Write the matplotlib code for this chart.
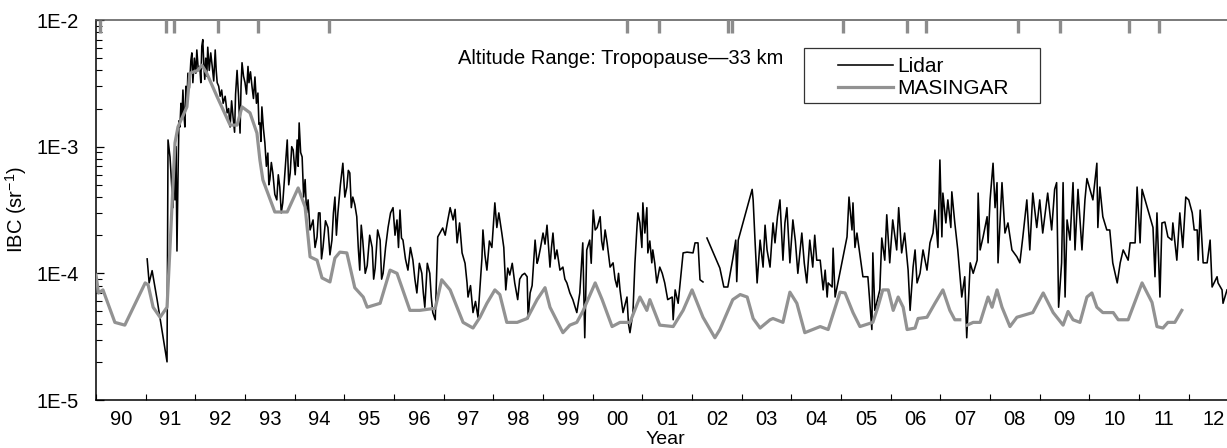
import matplotlib

matplotlib.use("Agg")
import matplotlib.pyplot as plt
import numpy as np
from matplotlib.lines import Line2D
from matplotlib.patches import Rectangle
from matplotlib.ticker import FixedLocator, LogLocator, NullFormatter

plt.rcParams["font.family"] = ["Liberation Sans", "DejaVu Sans"]
plt.rcParams["mathtext.fontset"] = "custom"
plt.rcParams["mathtext.rm"] = "Liberation Sans"
plt.rcParams["mathtext.it"] = "Liberation Sans:italic"

# (decimal year, IBC in sr^-1); nan marks a data gap
LIDAR = [
    (1991.03, 1.3e-4), (1991.07, 8.4e-5), (1991.13, 1.05e-4), (1991.23, 6.2e-5),
    (1991.43, 2.0e-5), (1991.45, 1.13e-3), (1991.49, 8.3e-4), (1991.55, 3.3e-4),
    (1991.57, 9.0e-4), (1991.59, 3.8e-4), (1991.61, 1.0e-3), (1991.63, 1.5e-4),
    (1991.65, 5.5e-4), (1991.67, 1.6e-3), (1991.69, 1.43e-3), (1991.71, 2.2e-3),
    (1991.73, 1.7e-3), (1991.75, 2.8e-3), (1991.77, 1.8e-3), (1991.79, 1.43e-3),
    (1991.81, 3.0e-3), (1991.83, 2.2e-3), (1991.85, 3.8e-3), (1991.88, 2.9e-3),
    (1991.91, 4.8e-3), (1991.93, 5.5e-3), (1991.95, 3.2e-3), (1991.98, 5.0e-3),
    (1992.01, 3.8e-3), (1992.03, 5.8e-3), (1992.06, 4.0e-3), (1992.09, 4.3e-3),
    (1992.11, 3.2e-3), (1992.13, 6.2e-3), (1992.15, 7.0e-3), (1992.17, 4.5e-3),
    (1992.19, 3.4e-3), (1992.21, 5.0e-3), (1992.23, 3.6e-3), (1992.25, 6.1e-3),
    (1992.28, 4.0e-3), (1992.31, 5.5e-3), (1992.34, 4.3e-3), (1992.37, 3.3e-3),
    (1992.40, 5.8e-3), (1992.42, 4.0e-3), (1992.44, 3.2e-3), (1992.47, 3.0e-3),
    (1992.50, 2.5e-3), (1992.53, 2.8e-3), (1992.56, 2.2e-3), (1992.60, 2.5e-3),
    (1992.64, 1.85e-3), (1992.67, 2.0e-3), (1992.70, 1.43e-3), (1992.73, 2.3e-3),
    (1992.76, 1.7e-3), (1992.79, 1.3e-3), (1992.81, 2.6e-3), (1992.84, 4.0e-3),
    (1992.87, 2.5e-3), (1992.90, 1.28e-3), (1992.92, 3.0e-3), (1992.94, 4.6e-3),
    (1992.97, 3.6e-3), (1993.00, 3.2e-3), (1993.03, 2.6e-3), (1993.06, 4.3e-3),
    (1993.08, 3.2e-3), (1993.11, 3.9e-3), (1993.14, 3.0e-3), (1993.17, 2.4e-3),
    (1993.20, 3.55e-3), (1993.23, 2.2e-3), (1993.26, 2.65e-3), (1993.28, 1.5e-3),
    (1993.30, 1.54e-3), (1993.32, 1.1e-3), (1993.34, 2.06e-3), (1993.37, 1.4e-3),
    (1993.40, 1.07e-3), (1993.43, 7.0e-4), (1993.46, 8.9e-4), (1993.48, 5.0e-4),
    (1993.50, 5.5e-4), (1993.53, 7.5e-4), (1993.56, 6.2e-4), (1993.60, 4.2e-4),
    (1993.64, 3.8e-4), (1993.67, 6.0e-4), (1993.70, 4.8e-4), (1993.73, 3.0e-4),
    (1993.76, 3.6e-4), (1993.80, 6.0e-4), (1993.85, 1.13e-3), (1993.88, 5.0e-4),
    (1993.91, 6.2e-4), (1993.94, 1.0e-3), (1993.97, 9.4e-4), (1994.01, 6.0e-4),
    (1994.05, 1.13e-3), (1994.07, 7.0e-4), (1994.09, 1.54e-3), (1994.12, 9.0e-4),
    (1994.15, 8.3e-4), (1994.18, 4.0e-4), (1994.21, 5.5e-4), (1994.24, 3.0e-4),
    (1994.27, 3.8e-4), (1994.31, 2.2e-4), (1994.37, 2.64e-4), (1994.41, 1.6e-4),
    (1994.45, 1.94e-4), (1994.48, 3.0e-4), (1994.51, 3.0e-4), (1994.54, 1.3e-4),
    (1994.57, 1.6e-4), (1994.62, 2.6e-4), (1994.67, 2.3e-4), (1994.71, 1.4e-4),
    (1994.75, 1.83e-4), (1994.78, 3.0e-4), (1994.81, 4.0e-4), (1994.84, 2.0e-4),
    (1994.87, 3.0e-4), (1994.92, 5.0e-4), (1994.97, 7.4e-4), (1995.01, 4.0e-4),
    (1995.05, 4.8e-4), (1995.08, 6.5e-4), (1995.11, 6.2e-4), (1995.14, 3.3e-4),
    (1995.17, 4.0e-4), (1995.21, 3.5e-4), (1995.25, 2.8e-4), (1995.28, 1.6e-4),
    (1995.31, 1.06e-4), (1995.34, 2.4e-4), (1995.37, 1.83e-4), (1995.42, 1.0e-4),
    (1995.46, 1.15e-4), (1995.51, 2.0e-4), (1995.56, 1.6e-4), (1995.59, 9.0e-5),
    (1995.62, 1.1e-4), (1995.67, 2.2e-4), (1995.72, 1.83e-4), (1995.75, 9.0e-5),
    (1995.78, 1.0e-4), (1995.83, 1.6e-4), (1995.88, 2.3e-4), (1995.93, 3.0e-4),
    (1995.98, 3.3e-4), (1996.02, 2.0e-4), (1996.06, 2.64e-4), (1996.09, 1.6e-4),
    (1996.12, 3.16e-4), (1996.15, 1.9e-4), (1996.18, 1.83e-4), (1996.23, 1.3e-4),
    (1996.28, 1.06e-4), (1996.33, 1.6e-4), (1996.38, 1.27e-4), (1996.42, 9.0e-5),
    (1996.46, 7.0e-5), (1996.51, 1.2e-4), (1996.56, 1.0e-4), (1996.59, 7.0e-5),
    (1996.62, 5.4e-5), (1996.67, 1.2e-4), (1996.72, 1.0e-4), (1996.75, 6.5e-5),
    (1996.78, 4.9e-5), (1996.83, 4.3e-5), (1996.88, 1.94e-4), (1996.98, 2.28e-4),
    (1997.03, 2.0e-4), (1997.08, 2.6e-4), (1997.13, 3.3e-4), (1997.19, 2.64e-4),
    (1997.23, 3.2e-4), (1997.27, 1.74e-4), (1997.32, 2.5e-4), (1997.37, 1.45e-4),
    (1997.43, 1.2e-4), (1997.47, 8.4e-5), (1997.49, 6.5e-5), (1997.54, 8.0e-5),
    (1997.59, 4.9e-5), (1997.64, 6.0e-5), (1997.69, 4.5e-5), (1997.77, 1.32e-4),
    (1997.79, 2.2e-4), (1997.83, 1.4e-4), (1997.87, 1.06e-4), (1997.92, 1.8e-4),
    (1997.97, 1.6e-4), (1998.00, 2.4e-4), (1998.03, 3.6e-4), (1998.07, 2.3e-4),
    (1998.11, 3.0e-4), (1998.17, 2.08e-4), (1998.21, 1.6e-4), (1998.25, 7.4e-5),
    (1998.29, 1.1e-4), (1998.33, 9.7e-5), (1998.38, 1.2e-4), (1998.43, 8.4e-5),
    (1998.49, 6.2e-5), (1998.53, 9.0e-5), (1998.58, 9.7e-5), (1998.63, 1.0e-4),
    (1998.68, 9.4e-5), (1998.70, 4.4e-5), (1998.74, 7.0e-5), (1998.78, 8.0e-5),
    (1998.84, 1.83e-4), (1998.88, 1.2e-4), (1998.90, 1.27e-4), (1998.95, 1.6e-4),
    (1999.00, 2.08e-4), (1999.04, 1.7e-4), (1999.08, 2.4e-4), (1999.14, 1.12e-4),
    (1999.17, 1.6e-4), (1999.20, 2.08e-4), (1999.24, 1.3e-4), (1999.28, 1.53e-4),
    (1999.34, 1.06e-4), (1999.40, 1.12e-4), (1999.44, 9.0e-5), (1999.48, 8.4e-5),
    (1999.54, 7.0e-5), (1999.60, 6.2e-5), (1999.68, 4.9e-5), (1999.74, 7.0e-5),
    (1999.80, 1.74e-4), (1999.84, 3.1e-5), (1999.88, 1.53e-4), (1999.94, 1.83e-4),
    (1999.97, 1.2e-4), (2000.01, 3.16e-4), (2000.05, 2.2e-4), (2000.09, 2.3e-4),
    (2000.15, 2.8e-4), (2000.18, 1.8e-4), (2000.21, 1.53e-4), (2000.25, 2.2e-4),
    (2000.29, 1.74e-4), (2000.35, 1.12e-4), (2000.41, 1.21e-4), (2000.45, 9.0e-5),
    (2000.49, 7.8e-5), (2000.52, 1.0e-4), (2000.55, 7.4e-5), (2000.61, 4.9e-5),
    (2000.69, 6.5e-5), (2000.72, 4.0e-5), (2000.75, 3.4e-5), (2000.81, 4.9e-5),
    (2000.85, 1.2e-4), (2000.89, 2.28e-4), (2000.91, 3.0e-4), (2000.95, 2.5e-4),
    (2000.99, 1.6e-4), (2001.01, 3.6e-4), (2001.05, 2.08e-4), (2001.09, 3.3e-4),
    (2001.11, 1.45e-4), (2001.15, 1.8e-4), (2001.19, 1.21e-4), (2001.21, 1.53e-4),
    (2001.25, 1.2e-4), (2001.29, 8.4e-5), (2001.35, 1.12e-4), (2001.40, 1.0e-4),
    (2001.45, 8.4e-5), (2001.51, 6.2e-5), (2001.60, 6.5e-5), (2001.62, 4.3e-5),
    (2001.66, 7.4e-5), (2001.72, 5.8e-5), (2001.82, 1.45e-4), (2001.90, 1.47e-4),
    (2002.02, 1.45e-4), (2002.06, 1.74e-4), (2002.12, 1.74e-4), (2002.16, 8.9e-5),
    (2002.22, 8.55e-5), (2002.26, np.nan),
    (2002.30, 1.9e-4), (2002.56, 1.1e-4), (2002.64, 7.8e-5), (2002.72, 7.8e-5),
    (2002.82, 1.3e-4), (2002.88, 1.83e-4), (2002.90, 8.6e-5), (2002.93, 1.83e-4),
    (2003.21, 4.6e-4), (2003.23, 3.8e-4), (2003.27, 1.74e-4), (2003.31, 8.4e-5),
    (2003.37, 1.83e-4), (2003.43, 1.12e-4), (2003.47, 2.4e-4), (2003.51, 1.53e-4),
    (2003.57, 1.12e-4), (2003.63, 2.5e-4), (2003.67, 1.74e-4), (2003.72, 2.8e-4),
    (2003.77, 3.8e-4), (2003.83, 1.27e-4), (2003.87, 2.5e-4), (2003.91, 3.3e-4),
    (2003.97, 1.21e-4), (2004.03, 2.64e-4), (2004.08, 1.8e-4), (2004.13, 1.0e-4),
    (2004.21, 2.08e-4), (2004.26, 1.2e-4), (2004.31, 8.4e-5), (2004.37, 1.83e-4),
    (2004.43, 1.12e-4), (2004.47, 2.0e-4), (2004.51, 1.27e-4), (2004.58, 1.27e-4),
    (2004.64, 7.4e-5), (2004.68, 1.06e-4), (2004.72, 6.5e-5), (2004.74, 8.4e-5),
    (2004.82, 7.8e-5), (2004.84, 1.58e-4), (2004.88, 6.5e-5), (2005.12, 1.94e-4),
    (2005.16, 4.0e-4), (2005.22, 2.2e-4), (2005.24, 3.6e-4), (2005.28, 1.6e-4),
    (2005.32, 2.08e-4), (2005.44, 9.4e-5), (2005.54, 9.4e-5), (2005.62, 3.6e-5),
    (2005.64, 1.45e-4), (2005.68, 5.1e-5), (2005.78, 7.4e-5), (2005.82, 1.9e-4),
    (2005.88, 1.27e-4), (2005.92, 2.9e-4), (2005.98, 1.21e-4), (2006.04, 2.64e-4),
    (2006.12, 1.53e-4), (2006.16, 3.3e-4), (2006.22, 1.45e-4), (2006.28, 2.08e-4),
    (2006.35, 1.06e-4), (2006.39, 5.1e-5), (2006.45, 1.12e-4), (2006.49, 1.53e-4),
    (2006.53, 8.4e-5), (2006.59, 1.0e-4), (2006.65, 1.53e-4), (2006.73, 1.06e-4),
    (2006.79, 1.74e-4), (2006.85, 2.08e-4), (2006.89, 3.16e-4), (2006.95, 1.6e-4),
    (2006.99, 7.85e-4), (2007.03, 1.94e-4), (2007.05, 4.3e-4), (2007.11, 2.5e-4),
    (2007.15, 3.8e-4), (2007.21, 2.3e-4), (2007.23, 4.4e-4), (2007.29, 2.5e-4),
    (2007.35, 1.53e-4), (2007.43, 6.5e-5), (2007.49, 9.4e-5), (2007.53, 3.1e-5),
    (2007.60, 1.21e-4), (2007.66, 1.0e-4), (2007.74, 1.27e-4), (2007.76, 4.3e-4),
    (2007.80, 1.53e-4), (2007.86, 1.94e-4), (2007.94, 2.8e-4), (2007.96, 1.74e-4),
    (2008.00, 3.8e-4), (2008.06, 7.4e-4), (2008.10, 3.3e-4), (2008.14, 5.2e-4),
    (2008.16, 1.21e-4), (2008.24, 5.2e-4), (2008.30, 2.08e-4), (2008.36, 2.5e-4),
    (2008.44, 1.53e-4), (2008.54, 1.35e-4), (2008.60, 1.21e-4), (2008.66, 1.94e-4),
    (2008.74, 3.8e-4), (2008.80, 1.53e-4), (2008.86, 4.3e-4), (2008.94, 2.3e-4),
    (2009.00, 3.8e-4), (2009.06, 2.08e-4), (2009.16, 4.3e-4), (2009.24, 2.2e-4),
    (2009.30, 4.6e-4), (2009.34, 5.2e-4), (2009.38, 5.4e-5), (2009.44, 1.21e-4),
    (2009.47, 5.2e-4), (2009.51, 6.5e-5), (2009.55, 2.64e-4), (2009.61, 1.83e-4),
    (2009.67, 5.2e-4), (2009.71, 1.53e-4), (2009.77, 4.6e-4), (2009.85, 1.53e-4),
    (2009.91, 3.8e-4), (2009.95, 5.6e-4), (2010.01, 4.6e-4), (2010.07, 3.8e-4),
    (2010.15, 7.4e-4), (2010.17, 2.3e-4), (2010.21, 4.8e-4), (2010.27, 2.8e-4),
    (2010.35, 2.2e-4), (2010.41, 2.2e-4), (2010.47, 1.21e-4), (2010.56, 8.4e-5),
    (2010.62, 1.21e-4), (2010.68, 1.53e-4), (2010.78, 1.27e-4), (2010.82, 1.74e-4),
    (2010.92, 1.74e-4), (2010.96, 4.8e-4), (2011.02, 1.74e-4), (2011.06, 4.6e-4),
    (2011.28, 2.3e-4), (2011.32, 9.4e-5), (2011.36, 3.0e-4), (2011.42, 6.5e-5),
    (2011.46, 2.5e-4), (2011.52, 2.54e-4), (2011.58, 1.94e-4), (2011.66, 1.83e-4),
    (2011.68, 2.5e-4), (2011.76, 1.27e-4), (2011.82, 3.0e-4), (2011.88, 1.6e-4),
    (2011.94, 4.0e-4), (2012.00, 3.8e-4), (2012.07, 3.0e-4), (2012.11, 2.2e-4),
    (2012.17, 2.2e-4), (2012.19, 1.27e-4), (2012.23, 3.16e-4), (2012.29, 1.21e-4),
    (2012.37, 1.21e-4), (2012.43, 1.83e-4), (2012.47, 7.8e-5), (2012.57, 9.4e-5),
    (2012.59, 8.4e-5), (2012.67, 7.4e-5), (2012.69, 5.8e-5), (2012.77, 7.4e-5),
]

MASINGAR = [
    (1990.00, 9.7e-5), (1990.05, 7.0e-5), (1990.14, 7.4e-5), (1990.38, 4.1e-5),
    (1990.58, 3.9e-5), (1990.68, 4.7e-5), (1990.99, 8.4e-5), (1991.05, 8.1e-5),
    (1991.15, 5.4e-5), (1991.29, 4.5e-5), (1991.43, 5.4e-5), (1991.49, 1.6e-4),
    (1991.59, 1.07e-3), (1991.65, 1.43e-3), (1991.83, 2.06e-3), (1991.89, 3.8e-3),
    (1992.05, 4.0e-3), (1992.13, 4.4e-3), (1992.23, 3.8e-3), (1992.44, 2.47e-3),
    (1992.70, 1.48e-3), (1992.84, 1.48e-3), (1992.94, 2.06e-3), (1993.10, 1.85e-3),
    (1993.24, 1.28e-3), (1993.30, 7.85e-4), (1993.36, 5.46e-4), (1993.60, 3.05e-4),
    (1993.85, 3.05e-4), (1994.07, 4.72e-4), (1994.21, 3.34e-4), (1994.31, 1.35e-4),
    (1994.45, 1.27e-4), (1994.55, 9.2e-5), (1994.71, 8.55e-5), (1994.81, 1.32e-4),
    (1994.91, 1.47e-4), (1995.05, 1.45e-4), (1995.21, 7.7e-5), (1995.38, 6.5e-5),
    (1995.46, 5.4e-5), (1995.72, 5.8e-5), (1995.92, 1.06e-4), (1996.06, 1.0e-4),
    (1996.32, 5.1e-5), (1996.52, 5.1e-5), (1996.83, 5.3e-5), (1996.96, 8.9e-5),
    (1997.13, 7.4e-5), (1997.39, 4.1e-5), (1997.59, 3.7e-5), (1997.73, 4.5e-5),
    (1997.87, 5.8e-5), (1998.03, 7.4e-5), (1998.13, 6.8e-5), (1998.27, 4.1e-5),
    (1998.48, 4.1e-5), (1998.68, 4.4e-5), (1998.88, 6.2e-5), (1999.04, 7.7e-5),
    (1999.14, 5.4e-5), (1999.40, 3.4e-5), (1999.54, 3.9e-5), (1999.68, 4.1e-5),
    (1999.80, 5.0e-5), (2000.05, 8.4e-5), (2000.19, 6.2e-5), (2000.39, 3.8e-5),
    (2000.55, 4.1e-5), (2000.75, 4.1e-5), (2000.95, 6.5e-5), (2001.09, 5.1e-5),
    (2001.15, 6.2e-5), (2001.35, 3.9e-5), (2001.62, 3.8e-5), (2001.82, 5.1e-5),
    (2002.00, 7.4e-5), (2002.22, 4.5e-5), (2002.46, 3.1e-5), (2002.56, 3.6e-5),
    (2002.82, 6.2e-5), (2002.97, 6.8e-5), (2003.11, 6.5e-5), (2003.23, 4.4e-5),
    (2003.37, 3.7e-5), (2003.57, 4.3e-5), (2003.63, 4.4e-5), (2003.83, 4.1e-5),
    (2003.97, 7.1e-5), (2004.11, 5.8e-5), (2004.27, 3.4e-5), (2004.58, 3.8e-5),
    (2004.74, 3.6e-5), (2004.98, 7.1e-5), (2005.08, 7.0e-5), (2005.24, 4.9e-5),
    (2005.38, 3.8e-5), (2005.64, 4.1e-5), (2005.74, 5.4e-5), (2005.84, 7.4e-5),
    (2005.95, 7.4e-5), (2006.05, 5.1e-5), (2006.15, 6.5e-5), (2006.25, 5.4e-5),
    (2006.33, 3.6e-5), (2006.49, 3.7e-5), (2006.55, 4.4e-5), (2006.73, 4.5e-5),
    (2006.89, 5.8e-5), (2007.05, 7.4e-5), (2007.19, 5.1e-5), (2007.29, 4.3e-5),
    (2007.39, 4.3e-5), (2007.46, np.nan),
    (2007.54, 3.9e-5), (2007.66, 4.1e-5), (2007.80, 4.1e-5), (2007.96, 6.5e-5),
    (2008.04, 5.4e-5), (2008.14, 7.4e-5), (2008.24, 5.4e-5), (2008.40, 3.8e-5),
    (2008.54, 4.5e-5), (2008.86, 4.9e-5), (2009.07, 7.0e-5), (2009.27, 4.9e-5),
    (2009.47, 3.9e-5), (2009.57, 5.0e-5), (2009.67, 4.3e-5), (2009.81, 4.1e-5),
    (2009.95, 6.5e-5), (2010.05, 7.0e-5), (2010.15, 5.4e-5), (2010.27, 4.9e-5),
    (2010.48, 4.9e-5), (2010.58, 4.3e-5), (2010.78, 4.3e-5), (2011.06, 8.4e-5),
    (2011.26, 5.9e-5), (2011.36, 3.8e-5), (2011.48, 3.7e-5), (2011.58, 4.1e-5),
    (2011.72, 4.1e-5), (2011.86, 5.1e-5),
]

# eruption markers along the top axis
EVENT_YEARS = [1990.08, 1991.41, 1991.57, 1992.46, 1993.27, 1994.70, 2000.70,
               2001.34, 2002.72, 2002.80, 2005.03, 2006.33, 2006.71, 2008.57,
               2009.41, 2010.80, 2011.41]

YEAR_LABELS = ["90", "91", "92", "93", "94", "95", "96", "97", "98", "99", "00",
               "01", "02", "03", "04", "05", "06", "07", "08", "09", "10", "11", "12"]
Y_TICKS = [1e-5, 1e-4, 1e-3, 1e-2]
Y_TICK_LABELS = ["1E-5", "1E-4", "1E-3", "1E-2"]

W, H = 1227, 448
fig = plt.figure(figsize=(W / 100, H / 100), dpi=100)
ax = fig.add_axes([96 / W, (H - 400) / H, (W - 96) / W, 380 / H])

lid = np.array(LIDAR, dtype=float)
mas = np.array(MASINGAR, dtype=float)
ax.plot(lid[:, 0], lid[:, 1], color="black", lw=1.15, zorder=2)
ax.plot(mas[:, 0], mas[:, 1], color="#929292", lw=2.3, zorder=3)

for yr in EVENT_YEARS:
    ax.axvline(yr, ymin=1 - 13 / 380, ymax=1, color="#8c8c8c", lw=2.4,
               solid_capstyle="butt", zorder=4)

ax.set_yscale("log")
ax.set_ylim(1e-5, 1e-2)
ax.set_xlim(1990, 2012.77)

ax.yaxis.set_major_locator(FixedLocator(Y_TICKS))
ax.set_yticklabels(Y_TICK_LABELS)
ax.yaxis.set_minor_locator(LogLocator(base=10, subs=np.arange(2, 10)))
ax.yaxis.set_minor_formatter(NullFormatter())
ax.tick_params(axis="y", which="major", direction="in", length=6, width=0.9,
               pad=12.5, labelsize=14.5)
ax.tick_params(axis="y", which="minor", direction="in", length=4, width=0.8)

n_years = len(YEAR_LABELS)
ax.set_xticks(np.arange(1990, 1990 + n_years))
ax.set_xticklabels([])
ax.set_xticks(np.arange(n_years) + 1990.5, minor=True)
ax.set_xticklabels(YEAR_LABELS, minor=True)
ax.tick_params(axis="x", which="major", direction="in", length=4, width=0.8)
ax.tick_params(axis="x", which="minor", length=0, pad=7, labelsize=14.5)

ax.spines["right"].set_visible(False)
ax.spines["left"].set_linewidth(1.1)
ax.spines["bottom"].set_linewidth(1.1)
ax.spines["top"].set_linewidth(1.1)
ax.spines["top"].set_color("#555555")

fig.text(665 / W, 1 - 439 / H, "Year", ha="center", va="center", fontsize=14)
fig.text(16 / W, 1 - 210 / H, "IBC (sr$^{-1}$)", rotation=90, ha="center",
         va="center", fontsize=14.5)
fig.text(458 / W, 1 - 58 / H, "Altitude Range: Tropopause\u201433 km", ha="left",
         va="center", fontsize=14.5)

fig.patches.append(Rectangle((804 / W, 1 - 103 / H), 236 / W, 55 / H,
                             transform=fig.transFigure, fill=False,
                             edgecolor="#333333", lw=0.9))
handles = [Line2D([], [], color="black", lw=1.15),
           Line2D([], [], color="#929292", lw=2.3)]
ax.legend(handles, ["Lidar", "MASINGAR"], loc="upper left",
          bbox_to_anchor=(838 / W, 1 - 57 / H), bbox_transform=fig.transFigure,
          frameon=False, borderpad=0, borderaxespad=0, handlelength=2.65,
          handletextpad=0.2, labelspacing=0.15, fontsize=15)

fig.savefig("out.png", dpi=100)
